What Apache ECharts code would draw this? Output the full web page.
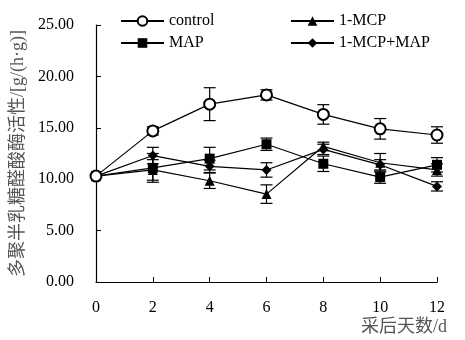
<!DOCTYPE html>
<html><head><meta charset="utf-8">
<script src="https://cdn.jsdelivr.net/npm/echarts@6/dist/echarts.min.js"></script>
<style>html,body{margin:0;padding:0;background:#fff}#c{width:465px;height:340px}</style>
</head><body><div id="c"></div>
<script>
var days = [0, 2, 4, 6, 8, 10, 12];
var yTicks = ['0.00', '5.00', '10.00', '15.00', '20.00', '25.00'];
var seriesNames = ['control', '1-MCP', 'MAP', '1-MCP+MAP'];
var control = [10.3, 14.7, 17.3, 18.2, 16.3, 14.9, 14.3];
var controlErr = [0, 0.4, 1.6, 0.5, 0.95, 1.0, 0.8];
var mcp = [10.3, 10.9, 9.85, 8.55, 13.2, 11.6, 10.9];
var mcpErr = [0, 1.0, 0.75, 0.9, 0.4, 0.9, 0.6];
var map = [10.3, 11.1, 12.0, 13.4, 11.5, 10.2, 11.4];
var mapErr = [0, 1.4, 1.1, 0.6, 0.75, 0.6, 0.7];
var combo = [10.3, 12.3, 11.25, 10.9, 12.9, 11.4, 9.3];
var comboErr = [0, 0.8, 0.6, 0.7, 0.5, 0.5, 0.45];

var FONT = "'Liberation Serif', 'Noto Sans CJK SC', serif";
var chart = echarts.init(document.getElementById('c'), null, {renderer: 'canvas'});

function pairs(vals) { return days.map(function (d, i) { return [d, vals[i]]; }); }
function errData(vals, errs) { return days.map(function (d, i) { return [d, vals[i] - errs[i], vals[i] + errs[i]]; }); }

function errSeries(vals, errs) {
  return {
    type: 'custom', z: 1, silent: true,
    data: errData(vals, errs),
    renderItem: function (params, api) {
      var x = api.value(0), lo = api.value(1), hi = api.value(2);
      if (hi - lo < 0.01) return null;
      var a = api.coord([x, hi]), b = api.coord([x, lo]);
      var w = 6;
      var st = {stroke: '#000', lineWidth: 1.2};
      return {type: 'group', children: [
        {type: 'line', shape: {x1: a[0], y1: a[1], x2: b[0], y2: b[1]}, style: st},
        {type: 'line', shape: {x1: a[0] - w, y1: a[1], x2: a[0] + w, y2: a[1]}, style: st},
        {type: 'line', shape: {x1: b[0] - w, y1: b[1], x2: b[0] + w, y2: b[1]}, style: st}
      ]};
    }
  };
}

function lineSeries(name, vals, symbol, size) {
  return {
    name: name, type: 'line', data: pairs(vals), z: 3,
    symbol: symbol, symbolSize: size, showAllSymbol: true,
    color: '#000',
    lineStyle: {color: '#000', width: 1.2},
    itemStyle: {color: '#000', borderWidth: symbol === 'emptyCircle' ? 1.2 : 0},
    emphasis: {disabled: true}
  };
}

var legendText = {fontFamily: FONT, fontSize: 16, color: '#000', lineHeight: 16};
var option = {
  animation: false,
  backgroundColor: '#fff',
  grid: {left: 96, right: 28, top: 25, bottom: 58},
  legend: [
    {data: [seriesNames[0], seriesNames[2]], orient: 'vertical', left: 115, top: 8, itemWidth: 43, itemHeight: 12, itemGap: 6, textStyle: legendText, selectedMode: false},
    {data: [seriesNames[1], seriesNames[3]], orient: 'vertical', left: 285, top: 8, itemWidth: 43, itemHeight: 12, itemGap: 6, textStyle: legendText, selectedMode: false}
  ],
  xAxis: {
    type: 'value', min: 0, max: 12, interval: 2,
    axisLine: {lineStyle: {color: '#000', width: 1.2}},
    axisTick: {inside: true, length: 5, lineStyle: {color: '#000'}},
    axisLabel: {fontFamily: FONT, fontSize: 16, color: '#000', margin: 18},
    splitLine: {show: false},
    name: '采后天数/d', nameLocation: 'end', nameGap: 0,
    nameTextStyle: {fontFamily: FONT, fontSize: 18, color: '#555', align: 'right', verticalAlign: 'top', padding: [36, -10, 0, 0]}
  },
  yAxis: {
    type: 'value', min: 0, max: 25, interval: 5,
    axisLine: {show: true, lineStyle: {color: '#000', width: 1.2}},
    axisTick: {show: true, inside: true, length: 5, lineStyle: {color: '#000'}},
    axisLabel: {fontFamily: FONT, fontSize: 16, color: '#000', margin: 22,
      formatter: function (v) { return yTicks[Math.round(v / 5)]; }},
    splitLine: {show: false},
    name: '多聚半乳糖醛酸酶活性/[g/(h·g)]', nameLocation: 'middle', nameGap: 63, nameRotate: 90,
    nameTextStyle: {fontFamily: FONT, fontSize: 18, color: '#555'}
  },
  series: [
    errSeries(control, controlErr),
    errSeries(mcp, mcpErr),
    errSeries(map, mapErr),
    errSeries(combo, comboErr),
    lineSeries(seriesNames[1], mcp, 'triangle', 10),
    lineSeries(seriesNames[3], combo, 'diamond', 10),
    lineSeries(seriesNames[2], map, 'rect', 10),
    lineSeries(seriesNames[0], control, 'emptyCircle', 11)
  ]
};
chart.setOption(option);
</script></body></html>
